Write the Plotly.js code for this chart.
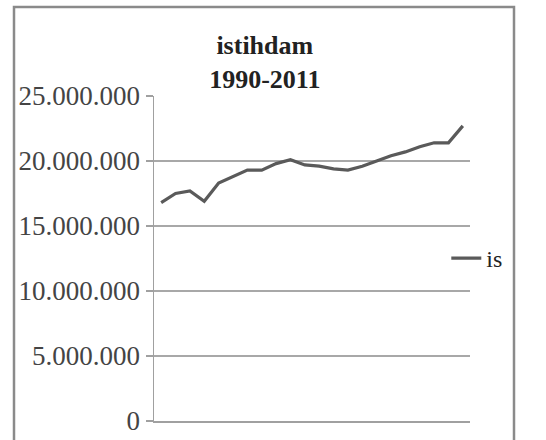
<!DOCTYPE html>
<html>
<head>
<meta charset="utf-8">
<script src="https://cdn.plot.ly/plotly-3.0.1.min.js"></script>
<style>html,body{margin:0;padding:0;background:#fff;}#chart{width:546px;height:440px;}</style>
</head>
<body>
<div id="chart"></div>
<script>
// Data
const years = ["1990","1991","1992","1993","1994","1995","1996","1997","1998","1999","2000",
               "2001","2002","2003","2004","2005","2006","2007","2008","2009","2010","2011"];
const istihdam = [16800000,17500000,17700000,16900000,18300000,18800000,19300000,19300000,19800000,20100000,19700000,
                  19600000,19400000,19300000,19600000,20000000,20400000,20700000,21100000,21400000,21400000,22700000];
const seriesName = "is";
const yTicks = [0,5000000,10000000,15000000,20000000,25000000];

const trace = {
  x: years, y: istihdam, type: "scatter", mode: "lines", name: seriesName,
  line: {color: "#5a5a5a", width: 3.2}
};

const layout = {
  width: 546, height: 440,
  margin: {l: 154, r: 76, t: 96, b: 19},
  paper_bgcolor: "#ffffff", plot_bgcolor: "#ffffff",
  separators: ",.",
  font: {family: "Liberation Serif, Times New Roman, serif", color: "#333"},
  title: {
    text: "<b>istihdam<br>1990-2011</b>",
    font: {family: "Liberation Serif, Times New Roman, serif", size: 26, color: "#222"},
    xref: "container", x: 0.485, xanchor: "center",
    yref: "container", y: 0.877, yanchor: "top"
  },
  showlegend: true,
  legend: {
    x: 0.925, xanchor: "left", y: 0.5, yanchor: "middle",
    font: {family: "Liberation Serif, Times New Roman, serif", size: 24, color: "#222"},
    bgcolor: "rgba(0,0,0,0)"
  },
  xaxis: {
    type: "category", range: [-0.5, years.length - 0.5],
    showticklabels: false, ticks: "", showgrid: false,
    showline: true, linecolor: "#a0a0a0", linewidth: 1.5, zeroline: false, fixedrange: true
  },
  yaxis: {
    range: [0, 25000000], tickvals: yTicks, tickformat: ",d",
    ticks: "outside", ticklen: 7, tickcolor: "#a0a0a0", tickwidth: 1.5,
    showline: true, linecolor: "#a0a0a0", linewidth: 1.5,
    showgrid: true, gridcolor: "#a8a8a8", gridwidth: 1.5, zeroline: false,
    tickfont: {family: "Liberation Serif, Times New Roman, serif", size: 27, color: "#444"},
    fixedrange: true
  },
  shapes: [{
    type: "rect", xref: "paper", yref: "paper",
    x0: (14 - 154) / 316, x1: (514 - 154) / 316,
    y0: (421 - 450) / 325, y1: (421 - 7) / 325,
    line: {color: "#8a8a8a", width: 2.5}, fillcolor: "rgba(0,0,0,0)", layer: "below"
  }]
};

Plotly.newPlot("chart", [trace], layout, {displayModeBar: false, staticPlot: true});
</script>
</body>
</html>
